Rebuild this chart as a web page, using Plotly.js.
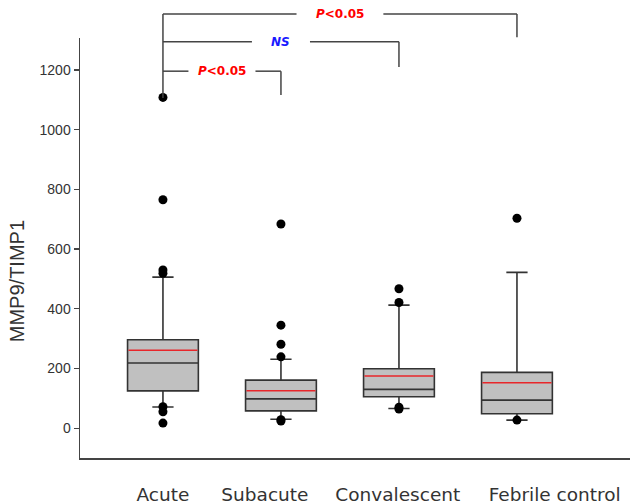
<!DOCTYPE html>
<html>
<head>
<meta charset="utf-8">
<script src="https://cdn.plot.ly/plotly-3.0.1.min.js"></script>
<style>html,body{margin:0;padding:0;background:#fff;}#chart{width:630px;height:504px;}</style>
</head>
<body>
<div id="chart"></div>
<script>
// ---- data ----
var categories = ["Acute", "Subacute", "Convalescent", "Febrile control"];
var groupIndex = [0, 1, 2, 3];
var q1 = [125, 58, 105, 48];
var medians = [218, 98, 130, 94];
var q3 = [296, 161, 199, 187];
var means = [261, 125, 175, 152];
var lowerWhisker = [71, 30, 66, 27];
var upperWhisker = [506, 231, 412, 522];
var outlierGroup = [0, 0, 0, 0, 0, 0, 0, 1, 1, 1, 1, 1, 1, 2, 2, 2, 2, 3, 3];
var outlierValue = [1108, 765, 530, 519, 72, 55, 17, 684, 345, 281, 239, 28, 24, 467, 421, 70, 64, 703, 27];
var tickValues = [0, 200, 400, 600, 800, 1000, 1200];
var yTitle = "MMP9/TIMP1";
var comparisons = [
  {from: 0, to: 1, text: "<i>P</i>&lt;0.05", color: "#ff0000"},
  {from: 0, to: 2, text: "<i>NS</i>", color: "#1a1aff"},
  {from: 0, to: 3, text: "<i>P</i>&lt;0.05", color: "#ff0000"}
];

// ---- layout helpers ----
var labelPos = [0, 0.864, 1.99, 3.32];
var bracketY = [0.921, 0.991, 1.057];   // paper y of horizontal lines
var bracketDrop = [0.864, 0.931, 1.002]; // paper y where right leg ends
var gapHalf = [0.284, 0.246, 0.368];     // half gap (x units) around text
var lineColor = "#444";

var traces = [
  {
    type: "box", x: groupIndex, q1: q1, median: medians, q3: q3,
    lowerfence: lowerWhisker, upperfence: upperWhisker,
    width: 0.6, whiskerwidth: 0.3, boxpoints: false,
    fillcolor: "#c0c0c0", line: {color: "#333", width: 1.6},
    hoverinfo: "skip", showlegend: false
  },
  {
    type: "box", x: groupIndex, q1: means, median: means, q3: means,
    lowerfence: means, upperfence: means,
    width: 0.585, whiskerwidth: 0.01, boxpoints: false,
    fillcolor: "rgba(0,0,0,0)", line: {color: "#e8262a", width: 1.5},
    hoverinfo: "skip", showlegend: false
  },
  {
    type: "scatter", mode: "markers", x: outlierGroup, y: outlierValue,
    marker: {color: "#000", size: 9},
    hoverinfo: "skip", showlegend: false, cliponaxis: false
  }
];

var shapes = [];
var annotations = [];
comparisons.forEach(function (c, i) {
  var mid = (c.from + c.to) / 2;
  var yl = bracketY[i];
  shapes.push({type: "line", xref: "x", yref: "paper", x0: c.from, x1: mid - gapHalf[i], y0: yl, y1: yl, line: {color: lineColor, width: 1.5}});
  shapes.push({type: "line", xref: "x", yref: "paper", x0: mid + gapHalf[i], x1: c.to, y0: yl, y1: yl, line: {color: lineColor, width: 1.5}});
  shapes.push({type: "line", xref: "x", yref: "paper", x0: c.to, x1: c.to, y0: yl, y1: bracketDrop[i], line: {color: lineColor, width: 1.5}});
  annotations.push({xref: "x", yref: "paper", x: mid, y: yl, text: "<b>" + c.text + "</b>", showarrow: false,
    xanchor: "center", yanchor: "middle", font: {family: "DejaVu Sans", size: 12, color: c.color}});
});
// shared left leg
shapes.push({type: "line", xref: "x", yref: "paper", x0: 0, x1: 0, y0: bracketY[2], y1: 0.857, line: {color: lineColor, width: 1.5}});
// y-axis title (placed like the original, below the plot centre)
annotations.push({xref: "paper", yref: "paper", x: -0.1145, y: 0.421, text: yTitle, textangle: -90, showarrow: false,
  xanchor: "center", yanchor: "middle", font: {family: "Liberation Sans", size: 20, color: "#333"}});

var layout = {
  width: 630, height: 504,
  margin: {l: 80, r: 0, t: 38, b: 46},
  paper_bgcolor: "#fff", plot_bgcolor: "#fff",
  boxmode: "overlay",
  showlegend: false,
  xaxis: {
    range: [-0.703, 3.958], showgrid: false, zeroline: false,
    showline: true, linecolor: lineColor, linewidth: 1.5,
    ticks: "", tickvals: labelPos, ticktext: categories,
    tickfont: {family: "DejaVu Sans", size: 18.5, color: "#333"},
    ticklabelstandoff: 19
  },
  yaxis: {
    range: [-100, 1307], showgrid: false, zeroline: false,
    showline: true, linecolor: lineColor, linewidth: 1.5,
    ticks: "outside", ticklen: 5, tickcolor: lineColor, tickwidth: 1.2,
    tickvals: tickValues,
    tickfont: {family: "Liberation Sans", size: 14, color: "#333"}
  },
  shapes: shapes,
  annotations: annotations
};

Plotly.newPlot("chart", traces, layout, {displayModeBar: false, staticPlot: true});
</script>
</body>
</html>
